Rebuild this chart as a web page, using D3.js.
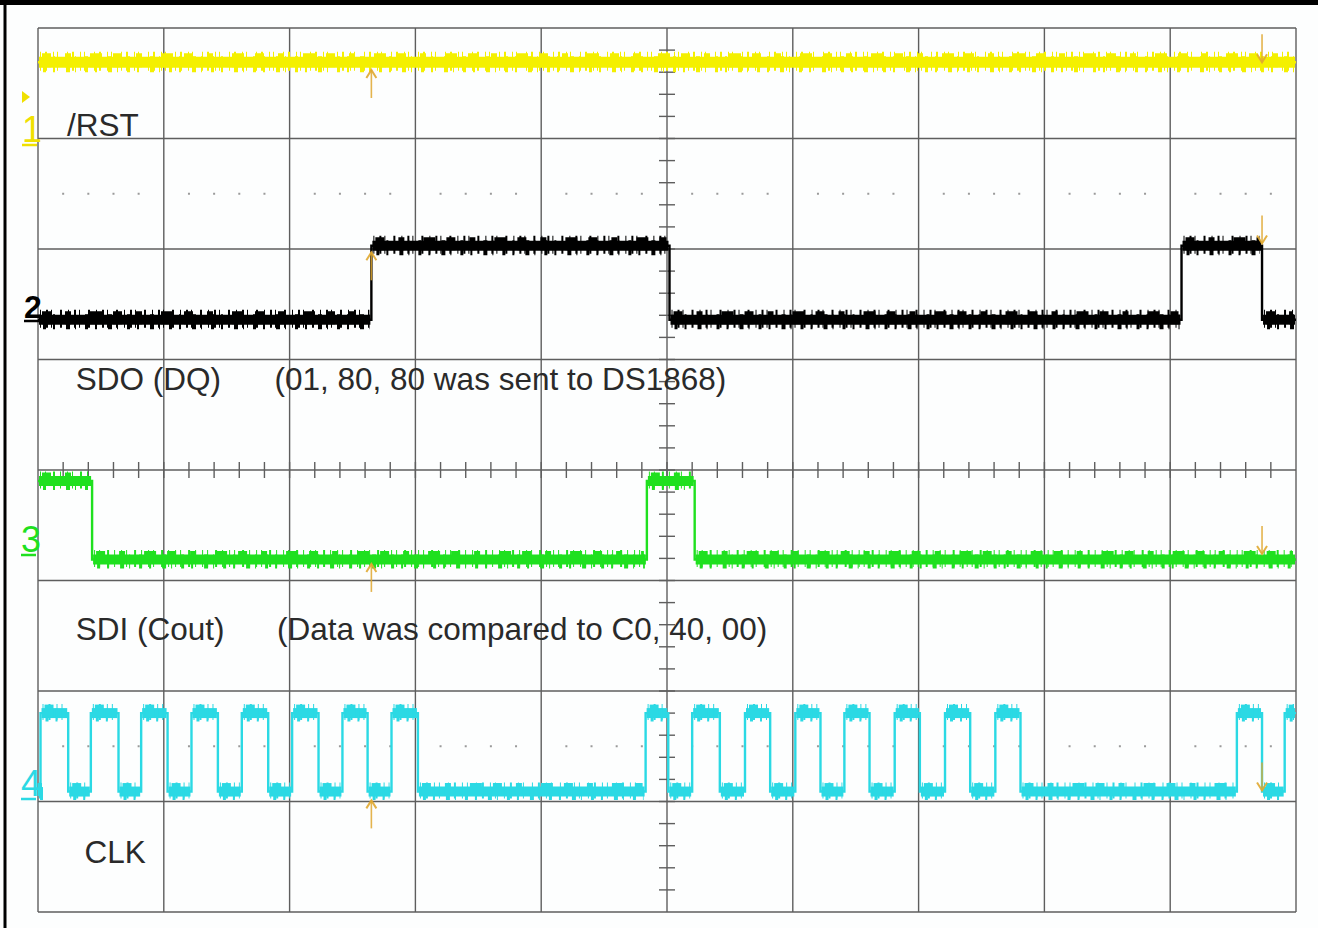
<!DOCTYPE html>
<html>
<head>
<meta charset="utf-8">
<script src="https://cdn.jsdelivr.net/npm/d3@7"></script>
<style>
body { margin: 0; background: #fff; }
text { font-family: "Liberation Sans", Arial, sans-serif; }
</style>
</head>
<body>
<div id="scope"></div>
<script>
// time axis in divisions (0..10), level axis in divisions (0..8)
var rstTrace = [[0, 7.69], [10, 7.69]];
var sdoTrace = [[0, 5.36], [2.65, 6.03], [5.02, 5.36], [9.09, 6.03], [9.73, 5.36], [10, 5.36]];
var sdiTrace = [[0, 3.90], [0.43, 3.19], [4.84, 3.90], [5.22, 3.19], [10, 3.19]];
var clkLow = 1.09, clkHigh = 1.80;
// clock edges, starting low, alternating rise / fall
var clkEdges = [0.02, 0.24, 0.42, 0.64, 0.82, 1.03, 1.22, 1.43, 1.62, 1.83, 2.02, 2.23, 2.42, 2.62, 2.81, 3.02,
    4.83, 5.01, 5.20, 5.42, 5.62, 5.82, 6.02, 6.22, 6.41, 6.61, 6.81, 7.01, 7.21, 7.41, 7.61, 7.81,
    9.53, 9.73, 9.91];

var channelNames = ["/RST", "SDO (DQ)", "SDI (Cout)", "CLK"];
var channelNotes = ["", "(01, 80, 80 was sent to DS1868)", "(Data was compared to C0, 40, 00)", ""];
var channelNums = ["1", "2", "3", "4"];

// cursor markers: time, and tip level per channel
var cursorUp = 2.65, cursorUpTips = [7.62, 5.97, 3.15, 1.01];
var cursorDown = 9.73, cursorDownTips = [7.69, 6.05, 3.24, 1.10];

var width = 1318, height = 928;
var svg = d3.select("#scope").append("svg")
    .attr("width", width)
    .attr("height", height);

svg.append("rect").attr("width", width).attr("height", height).attr("fill", "#fdfefe");

var x = d3.scaleLinear().domain([0, 10]).range([38, 1296]);
var y = d3.scaleLinear().domain([0, 8]).range([912, 28]);

// outer frame (top + left only)
svg.append("line").attr("x1", 0).attr("x2", width).attr("y1", 2.5).attr("y2", 2.5)
    .attr("stroke", "#000").attr("stroke-width", 5);
svg.append("line").attr("x1", 5).attr("x2", 5).attr("y1", 0).attr("y2", height)
    .attr("stroke", "#000").attr("stroke-width", 3);

// dotted rows
var dotRows = [6.5, 1.5];
var minor = d3.range(0, 50).map(function(i) { return i / 5; }).filter(function(d) { return Math.round(d * 5) % 5 != 0; });
dotRows.forEach(function(r) {
    svg.append("g").selectAll("rect")
        .data(minor)
        .enter()
        .append("rect")
        .attr("x", function(d) { return x(d) - 1; })
        .attr("y", y(r) - 1)
        .attr("width", 2)
        .attr("height", 2)
        .attr("fill", "#9a9a9a");
});

// grid
var grid = svg.append("g").attr("stroke", "#5e5e5e").attr("stroke-width", 1.4);
grid.selectAll(".v").data(d3.range(0, 11)).enter().append("line")
    .attr("x1", function(d) { return x(d); }).attr("x2", function(d) { return x(d); })
    .attr("y1", y(8)).attr("y2", y(0));
grid.selectAll(".h").data(d3.range(0, 9)).enter().append("line")
    .attr("x1", x(0)).attr("x2", x(10))
    .attr("y1", function(d) { return y(d); }).attr("y2", function(d) { return y(d); });

// center axis ticks
var ticksX = d3.range(1, 50).map(function(i) { return i / 5; });
var ticksY = d3.range(1, 40).map(function(i) { return i / 5; });
grid.selectAll(".tx").data(ticksX).enter().append("line")
    .attr("x1", function(d) { return x(d); }).attr("x2", function(d) { return x(d); })
    .attr("y1", y(4) - 8).attr("y2", y(4) + 8);
grid.selectAll(".ty").data(ticksY).enter().append("line")
    .attr("x1", x(5) - 8).attr("x2", x(5) + 8)
    .attr("y1", function(d) { return y(d); }).attr("y2", function(d) { return y(d); });

// build clock points from edges
var clkTrace = [[0, clkLow]];
clkEdges.forEach(function(t, i) {
    clkTrace.push([t, i % 2 == 0 ? clkHigh : clkLow]);
});
clkTrace.push([10, clkTrace[clkTrace.length - 1][1]]);

var stepLine = d3.line()
    .x(function(d) { return x(d[0]); })
    .y(function(d) { return y(d[1]); })
    .curve(d3.curveStepAfter);

function flats(points) {
    var segs = [];
    for (var i = 0; i < points.length - 1; i++) {
        segs.push([points[i][0], points[i + 1][0], points[i][1]]);
    }
    return segs;
}

function drawTrace(points, color, band, spike, dash) {
    var g = svg.append("g");
    g.append("path")
        .attr("d", stepLine(points))
        .attr("fill", "none")
        .attr("stroke", color)
        .attr("stroke-width", 2.4);
    var segs = flats(points);
    g.selectAll(".band").data(segs).enter().append("line")
        .attr("x1", function(d) { return x(d[0]) + 1; })
        .attr("x2", function(d) { return x(d[1]) - 1; })
        .attr("y1", function(d) { return y(d[2]); })
        .attr("y2", function(d) { return y(d[2]); })
        .attr("stroke", color)
        .attr("stroke-width", band);
    g.selectAll(".spike").data(segs).enter().append("line")
        .attr("x1", function(d) { return x(d[0]) + 2; })
        .attr("x2", function(d) { return x(d[1]) - 2; })
        .attr("y1", function(d) { return y(d[2]) - 1; })
        .attr("y2", function(d) { return y(d[2]) - 1; })
        .attr("stroke", color)
        .attr("stroke-width", spike)
        .attr("stroke-dasharray", dash);
    g.selectAll(".spike2").data(segs).enter().append("line")
        .attr("x1", function(d) { return x(d[0]) + 5; })
        .attr("x2", function(d) { return x(d[1]) - 2; })
        .attr("y1", function(d) { return y(d[2]) + 2; })
        .attr("y2", function(d) { return y(d[2]) + 2; })
        .attr("stroke", color)
        .attr("stroke-width", spike - 3)
        .attr("stroke-dasharray", "3,7,2,11,4,5,1,9");
    g.selectAll(".blob").data(segs).enter().append("line")
        .attr("x1", function(d) { return x(d[0]) + 4; })
        .attr("x2", function(d) { return x(d[1]) - 3; })
        .attr("y1", function(d) { return y(d[2]) - 2; })
        .attr("y2", function(d) { return y(d[2]) - 2; })
        .attr("stroke", color)
        .attr("stroke-width", band + 3)
        .attr("stroke-dasharray", "9,14,6,19,12,11");
}

drawTrace(rstTrace, "#f4f000", 11, 19, "1,4,2,6,1,3,1,9");
drawTrace(sdoTrace, "#000000", 10, 18, "1,5,2,3,1,8,2,6");
drawTrace(sdiTrace, "#1fe01f", 10, 17, "1,4,1,7,2,5,1,6");
drawTrace(clkTrace, "#2bd9e4", 10, 16, "1,5,2,6,1,4,1,8");

// cursor markers
var markColor = "#e0a830";
function marker(t, tip, dir) {
    var xp = x(t), yp = y(tip);
    var len = 28 * dir;
    svg.append("line")
        .attr("x1", xp).attr("x2", xp)
        .attr("y1", yp).attr("y2", yp + len)
        .attr("stroke", markColor).attr("stroke-width", 1.6).attr("opacity", 0.85);
    svg.append("path")
        .attr("d", "M" + (xp - 5) + "," + (yp + 8 * dir) + "L" + xp + "," + yp + "L" + (xp + 5) + "," + (yp + 8 * dir))
        .attr("fill", "none").attr("stroke", markColor).attr("stroke-width", 2).attr("opacity", 0.9);
}
cursorUpTips.forEach(function(d) { marker(cursorUp, d, 1); });
cursorDownTips.forEach(function(d) { marker(cursorDown, d, -1); });

// channel numbers
var numColors = ["#f0e000", "#000000", "#1fe01f", "#2bd9e4"];
var numPos = [[22, 142], [24, 318], [21, 552], [21, 796]];
channelNums.forEach(function(n, i) {
    svg.append("text")
        .attr("x", numPos[i][0])
        .attr("y", numPos[i][1])
        .attr("font-size", i == 1 ? 32 : 36)
        .attr("font-weight", i == 1 ? "bold" : "normal")
        .attr("fill", numColors[i])
        .text(n);
    svg.append("line")
        .attr("x1", numPos[i][0]).attr("x2", numPos[i][0] + 15)
        .attr("y1", numPos[i][1] + 3).attr("y2", numPos[i][1] + 3)
        .attr("stroke", numColors[i]).attr("stroke-width", 2.5);
});
svg.append("path")
    .attr("d", "M22,91L30,97L22,103Z")
    .attr("fill", "#f0e000");

// labels
var nameX = [0.23, 0.30, 0.30, 0.37];
var nameY = [7.02, 4.72, 2.46, 0.44];
var noteX = [0, 1.88, 1.90, 0];
channelNames.forEach(function(name, i) {
    svg.append("text")
        .attr("x", x(nameX[i]))
        .attr("y", y(nameY[i]))
        .attr("font-size", 31.5)
        .attr("fill", "#2a2a2a")
        .text(name);
    if (channelNotes[i] != "") {
        svg.append("text")
            .attr("x", x(noteX[i]))
            .attr("y", y(nameY[i]))
            .attr("font-size", 31.5)
            .attr("fill", "#2a2a2a")
            .text(channelNotes[i]);
    }
});
</script>
</body>
</html>
